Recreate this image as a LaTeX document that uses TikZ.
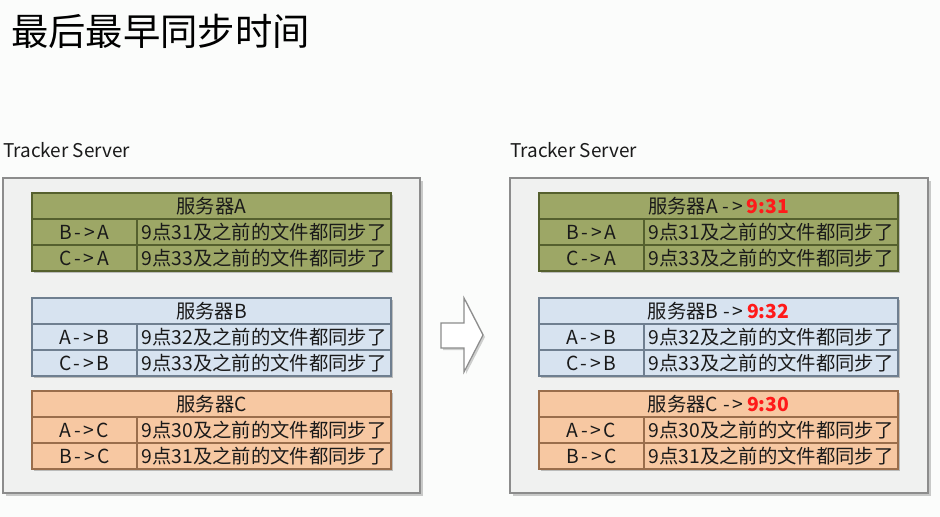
\documentclass[tikz,border=0pt]{standalone}
\usepackage{fontspec}
\setmainfont{Noto Sans CJK SC}
\newfontfamily\widelatin[LetterSpace=14]{Noto Sans CJK SC}
\usetikzlibrary{shadows}
\definecolor{bgc}{HTML}{FBFCFB}
\definecolor{panelfill}{HTML}{F0F1F0}
\definecolor{panelline}{HTML}{8C8C8C}
\definecolor{gfill}{HTML}{9DA766}
\definecolor{gline}{HTML}{55602E}
\definecolor{bfill}{HTML}{D7E3F0}
\definecolor{bline}{HTML}{6F7F90}
\definecolor{ofill}{HTML}{F7C8A2}
\definecolor{oline}{HTML}{9A6E4C}
\definecolor{txt}{HTML}{1A1A1A}
\definecolor{hot}{HTML}{FF1A1A}
\tikzset{
  cell/.style={draw,line width=0.9pt,minimum height=26*0.75pt,inner sep=0pt,outer sep=0pt,
    text=txt,font=\fontsize{14.5pt}{16pt}\selectfont},
  lbl/.style={font=\fontsize{14.5pt}{16pt}\widelatin},
  gtab/.style={fill=gfill,draw=gline},
  btab/.style={fill=bfill,draw=bline},
  otab/.style={fill=ofill,draw=oline},
  panel/.style={fill=panelfill,draw=panelline,line width=0.9pt,inner sep=0pt,outer sep=0pt,
    minimum width=417*0.75pt,minimum height=315*0.75pt,anchor=north west},
  caption/.style={anchor=west,inner sep=0pt,text=txt,font=\fontsize{14.2pt}{16pt}\selectfont}
}
\newcommand\servertable[9]{%
  \fill[black,opacity=0.22] ({#2+2},{#3+2}) rectangle ({#2+361},{#3+80});
  \node[cell,#4,minimum width=359*0.75pt,anchor=north west] (#1h) at (#2,#3) {#5};
  \node[cell,lbl,#4,minimum width=105*0.75pt,anchor=north west] (#1l1) at (#1h.south west) {#6};
  \node[cell,#4,minimum width=254*0.75pt,anchor=north west] (#1r1) at (#1l1.north east) {#7};
  \node[cell,lbl,#4,minimum width=105*0.75pt,anchor=north west] (#1l2) at (#1l1.south west) {#8};
  \node[cell,#4,minimum width=254*0.75pt,anchor=north west] (#1r2) at (#1l2.north east) {#9};
}
\newcommand\hot[1]{\textcolor{hot}{\textbf{#1}}}
\newcommand\arr{\hspace{0.25em}{\widelatin ->}\hspace{0.2em}}
\begin{document}
\begin{tikzpicture}[x=0.75pt,y=-0.75pt]
\useasboundingbox (0,0) rectangle (940,517);
\fill[bgc] (0,0) rectangle (940,517);
\node[anchor=west,inner sep=0pt,text=black,font=\fontsize{28pt}{30pt}\selectfont] (title) at (11,31) {最后最早同步时间};
% left
\node[caption] (lcap) at (3,150) {Tracker Server};
\fill[black,opacity=0.2] (6,181) rectangle (423,496);
\node[panel] (lp) at (3,178) {};
\servertable{la}{32}{193}{gtab}{服务器A}{B->A}{9点31及之前的文件都同步了}{C->A}{9点33及之前的文件都同步了}
\servertable{lb}{32}{298}{btab}{服务器B}{A->B}{9点32及之前的文件都同步了}{C->B}{9点33及之前的文件都同步了}
\servertable{lc}{32}{391}{otab}{服务器C}{A->C}{9点30及之前的文件都同步了}{B->C}{9点31及之前的文件都同步了}
% arrow
\fill[black,opacity=0.18] (443,325) -- (466,325) -- (466,300) -- (485,337) -- (466,374) -- (466,350) -- (443,350) -- cycle;
\draw[fill=white,draw=panelline,line width=0.9pt,line join=miter] (441,323) -- (464,323) -- (464,298) -- (483,335) -- (464,372) -- (464,348) -- (441,348) -- cycle;
% right
\node[caption] (rcap) at (510,150) {Tracker Server};
\fill[black,opacity=0.2] (513,181) rectangle (931,496);
\node[panel,minimum width=418*0.75pt] (rp) at (510,178) {};
\servertable{ra}{539}{193}{gtab}{服务器A\arr\hot{9:31}}{B->A}{9点31及之前的文件都同步了}{C->A}{9点33及之前的文件都同步了}
\servertable{rb}{539}{298}{btab}{服务器B\arr\hot{9:32}}{A->B}{9点32及之前的文件都同步了}{C->B}{9点33及之前的文件都同步了}
\servertable{rc}{539}{391}{otab}{服务器C\arr\hot{9:30}}{A->C}{9点30及之前的文件都同步了}{B->C}{9点31及之前的文件都同步了}
\end{tikzpicture}
\end{document}
